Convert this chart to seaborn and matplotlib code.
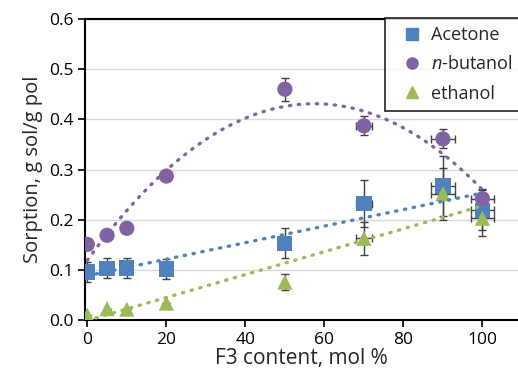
import numpy as np
import pandas as pd
import matplotlib
matplotlib.use("Agg")
import matplotlib.pyplot as plt
import seaborn as sns
from matplotlib.lines import Line2D

# F3 content (mol %) and sorption values
f3 = [0, 5, 10, 20, 50, 70, 90, 100]
acetone = [0.096, 0.103, 0.104, 0.102, 0.153, 0.232, 0.267, 0.219]
butanol = [0.151, 0.169, 0.183, 0.287, 0.460, 0.387, 0.361, 0.242]
ethanol = [0.010, 0.023, 0.022, 0.034, 0.076, 0.163, 0.252, 0.203]

acetone_err = [0.02, 0.02, 0.02, 0.02, 0.03, 0.047, 0.06, 0.04]
butanol_err = [0.0, 0.0, 0.0, 0.005, 0.023, 0.019, 0.019, 0.02]
ethanol_err = [0.0, 0.0, 0.0, 0.0, 0.016, 0.033, 0.052, 0.035]
f3_err = [0, 0, 0, 0, 0, 2, 3, 3]

names = ["Acetone", "n-butanol", "ethanol"]
labels = ["Acetone", "$\\it{n}$-butanol", "ethanol"]
colors = {"Acetone": "#4f81bd", "n-butanol": "#8064a2", "ethanol": "#9bbb59"}
markers = {"Acetone": "s", "n-butanol": "o", "ethanol": "^"}
fit_order = {"Acetone": 1, "n-butanol": 2, "ethanol": 1}

df = pd.DataFrame({
    "F3": f3 * 3,
    "sorption": acetone + butanol + ethanol,
    "yerr": acetone_err + butanol_err + ethanol_err,
    "xerr": f3_err * 3,
    "solvent": sum([[n] * len(f3) for n in names], []),
})

sns.set_theme(style="white")
plt.rcParams["font.family"] = ["Open Sans", "DejaVu Sans"]
plt.rcParams["mathtext.fontset"] = "custom"
plt.rcParams["mathtext.it"] = "Open Sans:italic"

fig = plt.figure(figsize=(5.18, 3.78), dpi=100)
ax = fig.add_axes([0.164, 0.153, 0.836, 0.797])

for n in names:
    d = df[df["solvent"] == n]
    ax.errorbar(d["F3"], d["sorption"], yerr=d["yerr"], xerr=d["xerr"],
                fmt="none", ecolor="#404040", elinewidth=1, capsize=3, zorder=2)
    sns.scatterplot(data=d, x="F3", y="sorption", marker=markers[n],
                    color=colors[n], s=120, edgecolor="none", ax=ax,
                    zorder=3, legend=False)

# excel-style dotted trendlines
for n in names:
    d = df[df["solvent"] == n]
    sns.regplot(data=d, x="F3", y="sorption", order=fit_order[n], ci=None,
                scatter=False, ax=ax, truncate=True,
                line_kws=dict(color=colors[n], lw=2.4, ls=(0, (0.4, 2.3)),
                              dash_capstyle="round", zorder=4))

ax.set_xlim(-0.6, 109)
ax.set_ylim(0, 0.6)
ax.set_xticks([0, 20, 40, 60, 80, 100])
ax.set_yticks(np.arange(0, 0.61, 0.1))
ax.set_yticklabels([f"{v:.1f}" for v in np.arange(0, 0.61, 0.1)])
ax.yaxis.grid(True, color="#d9d9d9", lw=1)
ax.set_axisbelow(True)
for s in ["left", "bottom", "top"]:
    ax.spines[s].set_color("black")
    ax.spines[s].set_linewidth(1.5)
ax.spines["right"].set_visible(False)
ax.tick_params(axis="both", direction="out", length=5, width=1.2,
               labelsize=12.5, colors="black", bottom=True, left=True)
ax.set_xlabel("F3 content, mol %", fontsize=15, labelpad=0)
ax.set_ylabel("Sorption, g sol/g pol", fontsize=14.5, labelpad=4)

handles = [Line2D([], [], ls="none", marker=markers[n], color=colors[n],
                  markersize=8) for n in names]
leg = ax.legend(handles, labels, loc="upper right", bbox_to_anchor=(1.005, 1.003),
                borderaxespad=0, frameon=True, fancybox=False, fontsize=13,
                handletextpad=0.05, handlelength=2.0, borderpad=0.45,
                labelspacing=0.62)
leg.get_frame().set_edgecolor("black")
leg.get_frame().set_linewidth(1.3)

fig.savefig("out.png", dpi=100)
